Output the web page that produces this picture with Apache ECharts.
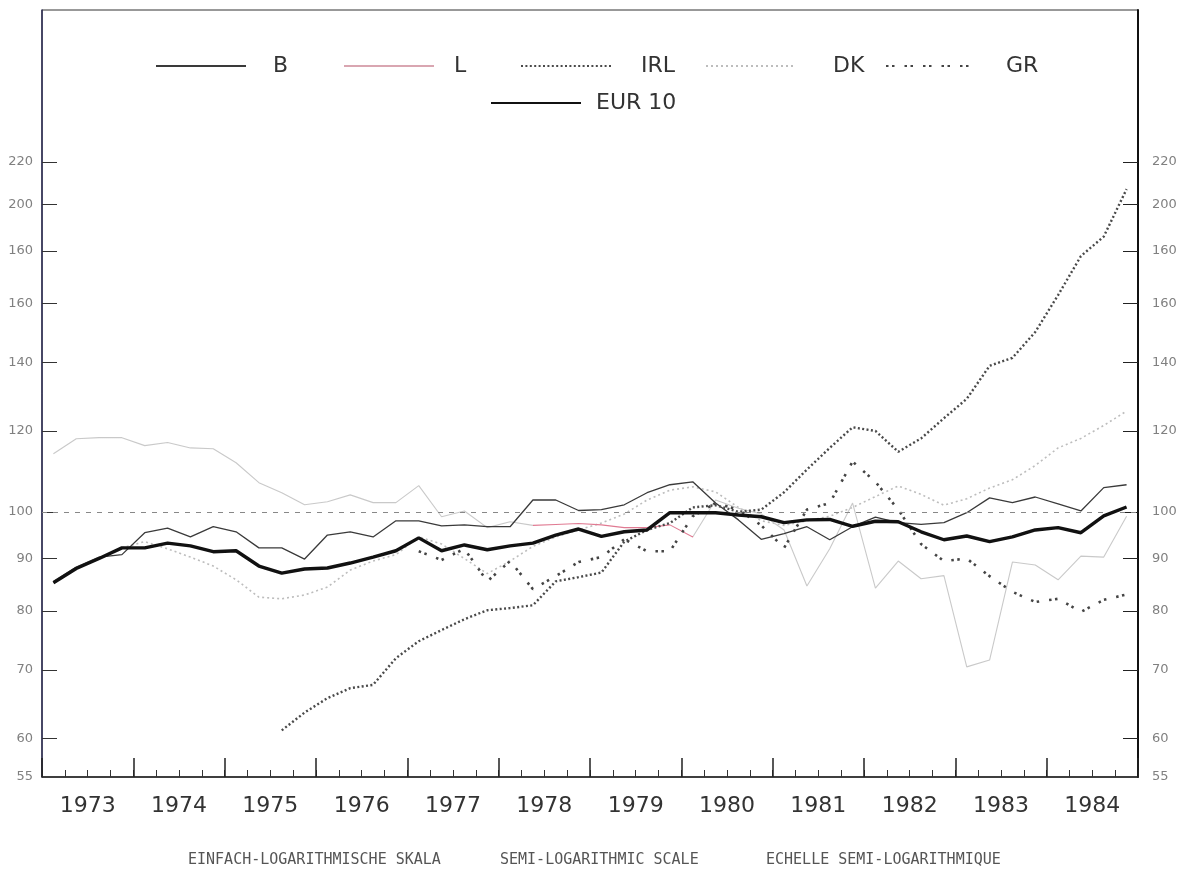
<!DOCTYPE html>
<html>
<head>
<meta charset="utf-8">
<script src="https://cdn.jsdelivr.net/npm/echarts@6/dist/echarts.min.js"></script>
<style>
html,body{margin:0;padding:0;background:#fff;}
#chart{width:1187px;height:872px;}
</style>
</head>
<body>
<div id="chart"></div>
<script>
const years = ['1973','1974','1975','1976','1977','1978','1979','1980','1981','1982','1983','1984'];
const quarters = years.flatMap(y => ['Q1','Q2','Q3','Q4'].map(q => y + ' ' + q));

const yTickValues = [55, 60, 70, 80, 90, 100, 120, 140, 160, 180, 200, 220];
const yTickLabels = ['55', '60', '70', '80', '90', '100', '120', '140', '160', '160', '200', '220'];
const footerTexts = ['EINFACH-LOGARITHMISCHE SKALA', 'SEMI-LOGARITHMIC SCALE', 'ECHELLE SEMI-LOGARITHMIQUE'];

const seriesB = [85.5,88.3,90.3,90.8,95.4,96.4,94.5,96.7,95.6,92.2,
  92.2,89.9,94.9,95.6,94.5,98.0,98.0,96.9,97.1,96.7,
  96.7,102.7,102.7,100.3,100.5,101.6,104.4,106.3,107.0,102.0,
  98.2,94.0,95.2,96.7,93.9,96.7,98.8,97.6,97.2,97.6,
  99.8,103.2,102.1,103.4,101.8,100.2,105.6,106.3];

const seriesL = [114,117.9,118.2,118.2,116.1,116.9,115.5,115.3,111.7,106.8,
  104.4,101.6,102.3,103.9,102.1,102.1,106.1,98.9,100.2,96.5,
  97.8,97.0,97.2,97.4,97.1,96.5,96.5,97.1,94.5,102.7,
  100.8,99.5,96,84.6,92,102,84.2,89.5,86,86.6,
  70.5,71.6,89.3,88.7,85.8,90.5,90.3,99];

const seriesIRL = [null,null,null,null,null,null,null,null,null,null,
  61.1,63.6,65.7,67.2,67.7,71.9,74.7,76.6,78.5,80.1,
  80.5,81.0,85.5,86.3,87.2,93.5,96.0,97.5,101,101.5,
  100,100.5,104.5,110,115.5,121,120,114.5,118,123.5,
  129,139,141.5,150,163,178,186,207];

const seriesDK = [null,null,null,92.2,93.5,92.0,90.3,88.5,85.8,82.5,
  82.2,82.9,84.4,87.7,89.5,90.8,94.5,93,90,87,
  89.5,92.5,94.5,96,97.5,99.5,102.7,105,105.8,104.6,
  101,98,97,98,99,101,103.5,106,104,101.5,
  103,105.5,107.5,111,115.5,118,121.5,125.5];

const seriesGR = [null,null,null,null,null,null,null,null,null,null,
  null,null,null,null,null,null,91.5,89.7,92.0,85.5,
  89.5,84.0,86.5,89.3,90.3,94.0,91.5,91.5,99,102,
  100.5,97,92.2,100.5,102,112,107,100.5,93,89.5,
  90,86.5,83.5,81.6,82.2,79.8,82,83];

const seriesEUR = [85.2,88.0,90.0,92.2,92.2,93.2,92.6,91.4,91.6,88.5,
  87.1,87.9,88.1,89.1,90.3,91.6,94.3,91.6,92.8,91.8,
  92.6,93.2,94.9,96.2,94.6,95.6,96.0,99.8,99.8,99.8,
  99.3,98.9,97.6,98.2,98.3,96.8,97.9,97.8,95.6,93.9,
  94.7,93.5,94.5,96.0,96.5,95.4,99.1,101.1];

const chart = echarts.init(document.getElementById('chart'), null, {renderer: 'canvas'});

function yLabel(v) {
  let best = 0, bd = Infinity;
  yTickValues.forEach((t, i) => { const d = Math.abs(t - v); if (d < bd) { bd = d; best = i; } });
  return yTickLabels[best];
}

const textFont = 'DejaVu Sans';
const YMIN = 55, YMAX = 310;

function legendAt(name, left, top, pad) {
  return {
    data: [name], left: left, top: top, orient: 'horizontal',
    itemWidth: 90, itemHeight: 14, padding: 0,
    itemStyle: {opacity: 0},
    textStyle: {fontFamily: textFont, fontSize: 22, color: '#333', padding: [0, 0, 0, pad]},
    selectedMode: false
  };
}

const option = {
  animation: false,
  backgroundColor: '#ffffff',
  grid: {left: 42, right: 49, top: 10, bottom: 95, show: true, borderColor: '#333', borderWidth: 1},
  legend: [
    legendAt('B', 155, 55, 22),
    legendAt('L', 343, 55, 15),
    legendAt('IRL', 520, 55, 25),
    legendAt('DK', 705, 55, 32),
    legendAt('GR', 885, 55, 25),
    legendAt('EUR 10', 490, 92, 10)
  ],
  visualMap: {
    show: false, type: 'piecewise', seriesIndex: 1, dimension: 0,
    pieces: [
      {lt: 20.5, color: '#c9c9c9'},
      {gte: 20.5, lt: 27.5, color: '#e07a92'},
      {gte: 27.5, color: '#c9c9c9'}
    ]
  },
  xAxis: [
    {
      type: 'category', data: quarters, boundaryGap: true, position: 'bottom',
      axisLine: {show: true, lineStyle: {color: '#222', width: 1.5}},
      axisTick: {show: true, inside: true, length: 7, interval: 0, lineStyle: {color: '#333', width: 1}},
      axisLabel: {show: false},
      splitLine: {show: false}
    },
    {
      type: 'category', data: years, boundaryGap: true, position: 'bottom',
      axisLine: {show: false},
      axisTick: {show: true, inside: true, length: 19, interval: 0, lineStyle: {color: '#222', width: 1.5}},
      axisLabel: {show: true, interval: 0, margin: 18, fontFamily: textFont, fontSize: 22, color: '#333'},
      splitLine: {show: false}
    }
  ],
  yAxis: [
    {
      type: 'log', logBase: 10, min: YMIN, max: YMAX, position: 'left',
      axisLine: {show: true, lineStyle: {color: '#2c2c55', width: 1.5}},
      axisTick: {show: true, inside: true, length: 15, customValues: yTickValues.slice(1), lineStyle: {color: '#333', width: 1}},
      axisLabel: {show: true, customValues: yTickValues, formatter: yLabel, margin: 9, fontFamily: textFont, fontSize: 13, color: '#808080'},
      splitLine: {show: false}, minorTick: {show: false}
    },
    {
      type: 'log', logBase: 10, min: YMIN, max: YMAX, position: 'right',
      axisLine: {show: true, lineStyle: {color: '#111', width: 2}},
      axisTick: {show: true, inside: true, length: 15, customValues: yTickValues.slice(1), lineStyle: {color: '#222', width: 1}},
      axisLabel: {show: true, customValues: yTickValues, formatter: yLabel, margin: 14, fontFamily: textFont, fontSize: 13, color: '#808080'},
      splitLine: {show: false}, minorTick: {show: false}
    }
  ],
  series: [
    {
      name: 'B', type: 'line', data: seriesB, symbol: 'none', z: 3,
      lineStyle: {color: '#3a3a3a', width: 1.3}, itemStyle: {color: '#3a3a3a'}
    },
    {
      name: 'L', type: 'line', data: seriesL, symbol: 'none', z: 2,
      lineStyle: {width: 1.1}, itemStyle: {color: '#d9a6b1'}
    },
    {
      name: 'IRL', type: 'line', data: seriesIRL, symbol: 'none', z: 4,
      lineStyle: {color: '#4a4a4a', width: 2.4, type: [2, 2.4]}, itemStyle: {color: '#4a4a4a'}
    },
    {
      name: 'DK', type: 'line', data: seriesDK, symbol: 'none', z: 1,
      lineStyle: {color: '#bdbdbd', width: 1.6, type: [2, 3]}, itemStyle: {color: '#bdbdbd'}
    },
    {
      name: 'GR', type: 'line', data: seriesGR, symbol: 'none', z: 4,
      lineStyle: {color: '#444', width: 2.6, type: [2.5, 3.5, 2.5, 10]}, itemStyle: {color: '#444'}
    },
    {
      name: 'EUR 10', type: 'line', data: seriesEUR, symbol: 'none', z: 6,
      lineStyle: {color: '#111', width: 3.4}, itemStyle: {color: '#111'},
      markLine: {
        silent: true, symbol: 'none', label: {show: false},
        lineStyle: {color: '#888', width: 1, type: [5, 6]},
        data: [{yAxis: 100}]
      }
    }
  ],
  graphic: [
    {type: 'text', left: 188, top: 853, style: {text: footerTexts[0], font: '15px "DejaVu Sans Mono"', fill: '#555'}},
    {type: 'text', left: 500, top: 853, style: {text: footerTexts[1], font: '15px "DejaVu Sans Mono"', fill: '#555'}},
    {type: 'text', left: 766, top: 853, style: {text: footerTexts[2], font: '15px "DejaVu Sans Mono"', fill: '#555'}}
  ]
};

chart.setOption(option);
</script>
</body>
</html>
